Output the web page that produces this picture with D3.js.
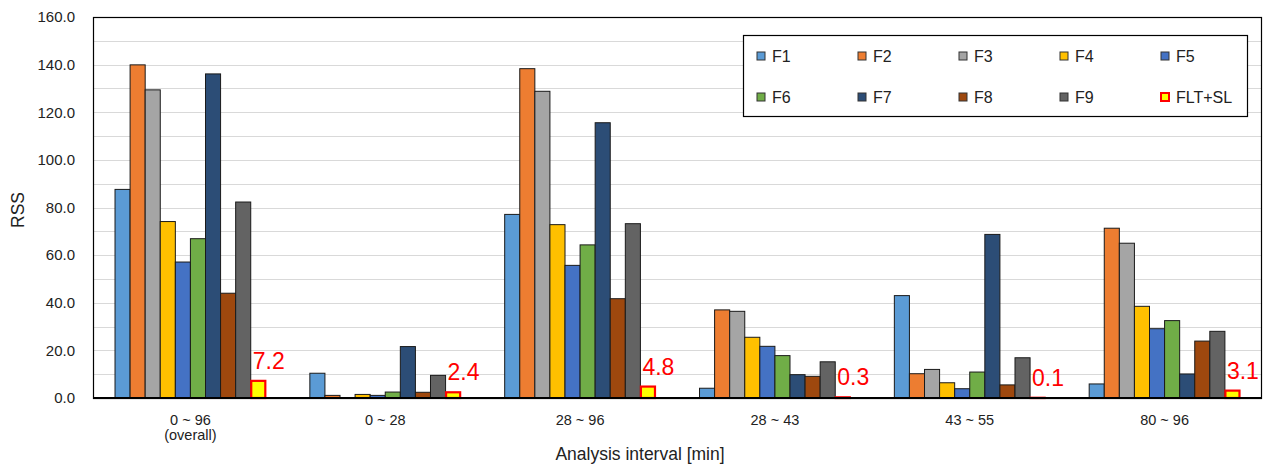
<!DOCTYPE html>
<html>
<head>
<meta charset="utf-8">
<script src="https://cdn.jsdelivr.net/npm/d3@7/dist/d3.min.js"></script>
<style>
  html, body { margin: 0; padding: 0; background: #fff; }
  svg { display: block; font-family: "Liberation Sans", Arial, sans-serif; }
</style>
</head>
<body>
<svg id="chart" width="1265" height="466"></svg>
<script>
// Analysis intervals (x categories)
const categories = ["0 ~ 96\n(overall)", "0 ~ 28", "28 ~ 96", "28 ~ 43", "43 ~ 55", "80 ~ 96"];

// Series names, in legend / bar order
const seriesNames = ["F1", "F2", "F3", "F4", "F5", "F6", "F7", "F8", "F9", "FLT+SL"];

// RSS per series, one value per interval
const F1 = [87.6, 10.4, 77.1, 4.1, 43.0, 5.9];
const F2 = [139.9, 1.1, 138.3, 37.0, 10.2, 71.3];
const F3 = [129.4, 0.2, 128.8, 36.4, 12.0, 65.0];
const F4 = [74.1, 1.5, 72.8, 25.5, 6.4, 38.5];
const F5 = [57.1, 1.1, 55.7, 21.7, 3.9, 29.1];
const F6 = [66.9, 2.5, 64.3, 17.8, 10.9, 32.5];
const F7 = [136.1, 21.6, 115.6, 9.8, 68.7, 10.1];
const F8 = [44.0, 2.4, 41.7, 9.1, 5.5, 23.9];
const F9 = [82.3, 9.5, 73.2, 15.2, 16.9, 28.0];
const FLT_SL = [7.2, 2.4, 4.8, 0.3, 0.1, 3.1];

// Y axis ticks
const yTicks = [0, 20, 40, 60, 80, 100, 120, 140, 160];

const seriesValues = [F1, F2, F3, F4, F5, F6, F7, F8, F9, FLT_SL];
const colors = ["#5B9BD5", "#ED7D31", "#A5A5A5", "#FFC000", "#4472C4",
                "#70AD47", "#2C4D76", "#9E480E", "#636363", "#FFFF00"];

const svg = d3.select("#chart");
const plot = { left: 93, right: 1262, top: 17, bottom: 398 };

const y = d3.scaleLinear().domain([0, 160]).range([plot.bottom, plot.top]);
const x0 = d3.scaleBand().domain(categories)
  .range([plot.left, plot.right]).paddingInner(0.226).paddingOuter(0.113);
const x1 = d3.scaleBand().domain(seriesNames).range([0, x0.bandwidth()]).padding(0);

// Gridlines every 10
svg.append("g").selectAll("line")
  .data(d3.range(10, 161, 10))
  .join("line")
  .attr("x1", plot.left).attr("x2", plot.right)
  .attr("y1", d => Math.round(y(d)) + 0.5).attr("y2", d => Math.round(y(d)) + 0.5)
  .attr("stroke", "#D9D9D9").attr("stroke-width", 1);

// Plot frame
svg.append("rect")
  .attr("x", plot.left + 0.5).attr("y", plot.top + 0.5)
  .attr("width", plot.right - plot.left - 1).attr("height", plot.bottom - plot.top)
  .attr("fill", "none").attr("stroke", "#000").attr("stroke-width", 1.2);

// Bars
const groups = svg.append("g").selectAll("g")
  .data(categories)
  .join("g")
  .attr("transform", d => `translate(${x0(d)},0)`);

groups.each(function(cat, ci) {
  const g = d3.select(this);
  seriesNames.forEach((name, si) => {
    const v = seriesValues[si][ci];
    const isFlt = name === "FLT+SL";
    g.append("rect")
      .attr("x", x1(name) + (isFlt ? 0.5 : 0))
      .attr("y", y(v))
      .attr("width", x1.bandwidth() - (isFlt ? 1 : 0))
      .attr("height", y(0) - y(v))
      .attr("fill", colors[si])
      .attr("stroke", isFlt ? "#FF0000" : "#1a1a1a")
      .attr("stroke-width", isFlt ? 2.2 : 1);
    if (isFlt) {
      g.append("text")
        .attr("x", x1(name) + 2)
        .attr("y", y(v) - 12)
        .attr("fill", "#FF0000")
        .attr("font-size", 23)
        .text(v.toFixed(1));
    }
  });
});

// Bottom axis line
svg.append("line")
  .attr("x1", plot.left).attr("x2", plot.right)
  .attr("y1", plot.bottom).attr("y2", plot.bottom)
  .attr("stroke", "#000").attr("stroke-width", 2);

// Y axis
const yAxis = d3.axisLeft(y).tickValues(yTicks).tickSize(0).tickPadding(0)
  .tickFormat(d3.format(".1f"));
svg.append("g")
  .attr("transform", `translate(${plot.left - 18},0)`)
  .call(yAxis)
  .call(g => g.select(".domain").remove())
  .selectAll("text")
  .attr("font-size", 15).attr("fill", "#222")
  .attr("font-family", "Liberation Sans, Arial, sans-serif");

// X axis labels
const xAxis = d3.axisBottom(x0).tickSize(0).tickFormat("");
const xg = svg.append("g").attr("transform", `translate(0,${plot.bottom})`).call(xAxis);
xg.select(".domain").remove();
xg.selectAll(".tick").each(function(d) {
  const lines = d.split("\n");
  const t = d3.select(this).append("text")
    .attr("fill", "#222").attr("font-size", 14.5)
    .attr("text-anchor", "middle")
    .attr("font-family", "Liberation Sans, Arial, sans-serif");
  lines.forEach((ln, i) => {
    t.append("tspan").attr("x", 0).attr("y", 27 + i * 15).text(ln);
  });
});

// Axis titles
svg.append("text")
  .attr("x", 640).attr("y", 460)
  .attr("text-anchor", "middle").attr("font-size", 17.5).attr("fill", "#222")
  .text("Analysis interval [min]");

svg.append("text")
  .attr("transform", "translate(24,210) rotate(-90)")
  .attr("text-anchor", "middle").attr("font-size", 17.5).attr("fill", "#222")
  .text("RSS");

// Legend
const legend = svg.append("g");
legend.append("rect")
  .attr("x", 743.5).attr("y", 35.5).attr("width", 504).attr("height", 81)
  .attr("fill", "#fff").attr("stroke", "#000").attr("stroke-width", 1.2);

const legendItems = legend.selectAll("g.item")
  .data(seriesNames)
  .join("g").attr("class", "item")
  .attr("transform", (d, i) => `translate(${757 + (i % 5) * 101},${i < 5 ? 56 : 97})`);

legendItems.append("rect")
  .attr("x", 0).attr("y", -4).attr("width", 8).attr("height", 8)
  .attr("fill", (d, i) => colors[i])
  .attr("stroke", d => d === "FLT+SL" ? "#FF0000" : "#333")
  .attr("stroke-width", d => d === "FLT+SL" ? 2 : 1);

legendItems.append("text")
  .attr("x", 15).attr("y", 0).attr("dy", "0.35em")
  .attr("font-size", 16).attr("fill", "#222")
  .text(d => d);
</script>
</body>
</html>
